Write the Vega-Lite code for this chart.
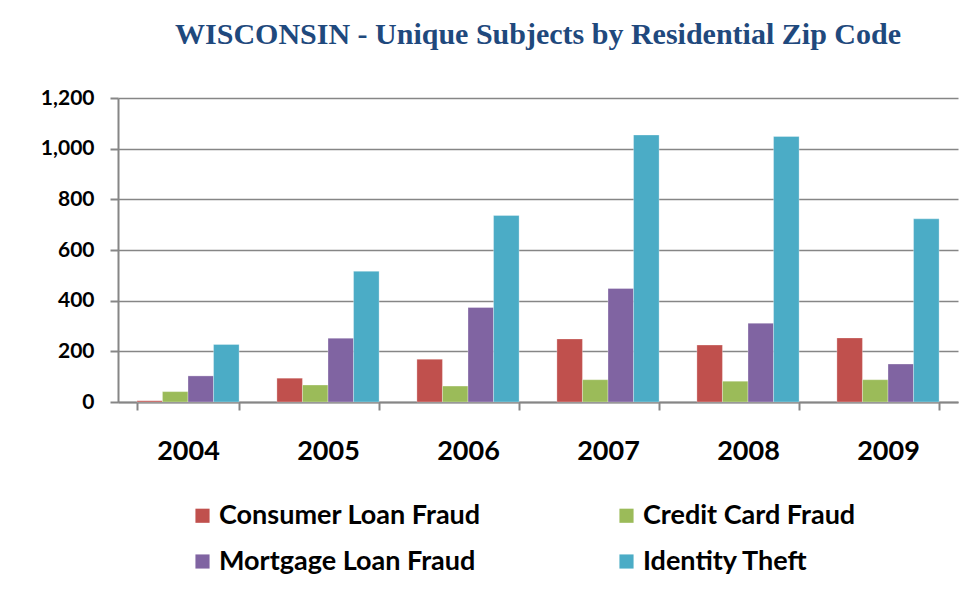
{
  "$schema": "https://vega.github.io/schema/vega-lite/v6.json",
  "width": 840,
  "height": 304,
  "autosize": {"type": "none"},
  "padding": {"left": 118, "top": 98, "right": 18, "bottom": 193},
  "background": "white",
  "title": {
    "text": "WISCONSIN - Unique Subjects by Residential Zip Code",
    "font": "Liberation Serif",
    "fontSize": 30,
    "fontWeight": "bold",
    "color": "#1F497D",
    "anchor": "middle",
    "offset": 37
  },
  "data": {
    "values": [
      {"year": "2004", "type": "Consumer Loan Fraud", "value": 5},
      {"year": "2004", "type": "Credit Card Fraud", "value": 41},
      {"year": "2004", "type": "Mortgage Loan Fraud", "value": 103},
      {"year": "2004", "type": "Identity Theft", "value": 227},
      {"year": "2005", "type": "Consumer Loan Fraud", "value": 94},
      {"year": "2005", "type": "Credit Card Fraud", "value": 67},
      {"year": "2005", "type": "Mortgage Loan Fraud", "value": 252},
      {"year": "2005", "type": "Identity Theft", "value": 516},
      {"year": "2006", "type": "Consumer Loan Fraud", "value": 169},
      {"year": "2006", "type": "Credit Card Fraud", "value": 63},
      {"year": "2006", "type": "Mortgage Loan Fraud", "value": 373},
      {"year": "2006", "type": "Identity Theft", "value": 736},
      {"year": "2007", "type": "Consumer Loan Fraud", "value": 249},
      {"year": "2007", "type": "Credit Card Fraud", "value": 88},
      {"year": "2007", "type": "Mortgage Loan Fraud", "value": 448},
      {"year": "2007", "type": "Identity Theft", "value": 1054},
      {"year": "2008", "type": "Consumer Loan Fraud", "value": 225},
      {"year": "2008", "type": "Credit Card Fraud", "value": 82},
      {"year": "2008", "type": "Mortgage Loan Fraud", "value": 311},
      {"year": "2008", "type": "Identity Theft", "value": 1048},
      {"year": "2009", "type": "Consumer Loan Fraud", "value": 253},
      {"year": "2009", "type": "Credit Card Fraud", "value": 88},
      {"year": "2009", "type": "Mortgage Loan Fraud", "value": 150},
      {"year": "2009", "type": "Identity Theft", "value": 723}
    ]
  },
  "mark": {"type": "bar", "stroke": "white", "strokeWidth": 0.5, "strokeOpacity": 0.6},
  "encoding": {
    "x": {
      "field": "year",
      "type": "nominal",
      "title": null,
      "scale": {"paddingInner": 0.27, "paddingOuter": 0.135},
      "axis": {
        "labelAngle": 0,
        "labelFont": "Lato",
        "labelFontWeight": "bold",
        "labelFontSize": 27,
        "labelColor": "black",
        "labelPadding": 28,
        "tickBand": "extent",
        "tickSize": 8,
        "tickColor": "#868686",
        "tickWidth": 2,
        "domainColor": "#868686",
        "domainWidth": 2
      }
    },
    "xOffset": {
      "field": "type",
      "type": "nominal",
      "sort": ["Consumer Loan Fraud", "Credit Card Fraud", "Mortgage Loan Fraud", "Identity Theft"],
      "scale": {"paddingInner": 0, "paddingOuter": 0}
    },
    "y": {
      "field": "value",
      "type": "quantitative",
      "title": null,
      "scale": {"domain": [0, 1200], "nice": false},
      "axis": {
        "values": [0, 200, 400, 600, 800, 1000, 1200],
        "format": ",.0f",
        "labelFont": "Lato",
        "labelFontWeight": "bold",
        "labelFontSize": 21,
        "labelColor": "black",
        "labelPadding": 16,
        "tickSize": 8,
        "tickColor": "#868686",
        "tickWidth": 2,
        "domainColor": "#868686",
        "domainWidth": 2,
        "gridColor": "#868686",
        "gridWidth": 1.5
      }
    },
    "color": {
      "field": "type",
      "type": "nominal",
      "title": null,
      "sort": ["Consumer Loan Fraud", "Credit Card Fraud", "Mortgage Loan Fraud", "Identity Theft"],
      "scale": {
        "domain": ["Consumer Loan Fraud", "Credit Card Fraud", "Mortgage Loan Fraud", "Identity Theft"],
        "range": ["#C0504D", "#9BBB59", "#8064A2", "#4BACC6"]
      },
      "legend": {
        "orient": "none",
        "legendX": 71,
        "legendY": 404,
        "columns": 2,
        "direction": "horizontal",
        "symbolType": "square",
        "symbolSize": 200,
        "symbolStrokeWidth": 0,
        "symbolOpacity": 1,
        "labelFont": "Lato",
        "labelFontWeight": "bold",
        "labelFontSize": 27,
        "labelColor": "black",
        "labelOffset": 3,
        "labelLimit": 400,
        "columnPadding": 132,
        "rowPadding": 18
      }
    }
  },
  "config": {
    "view": {"stroke": null}
  }
}
